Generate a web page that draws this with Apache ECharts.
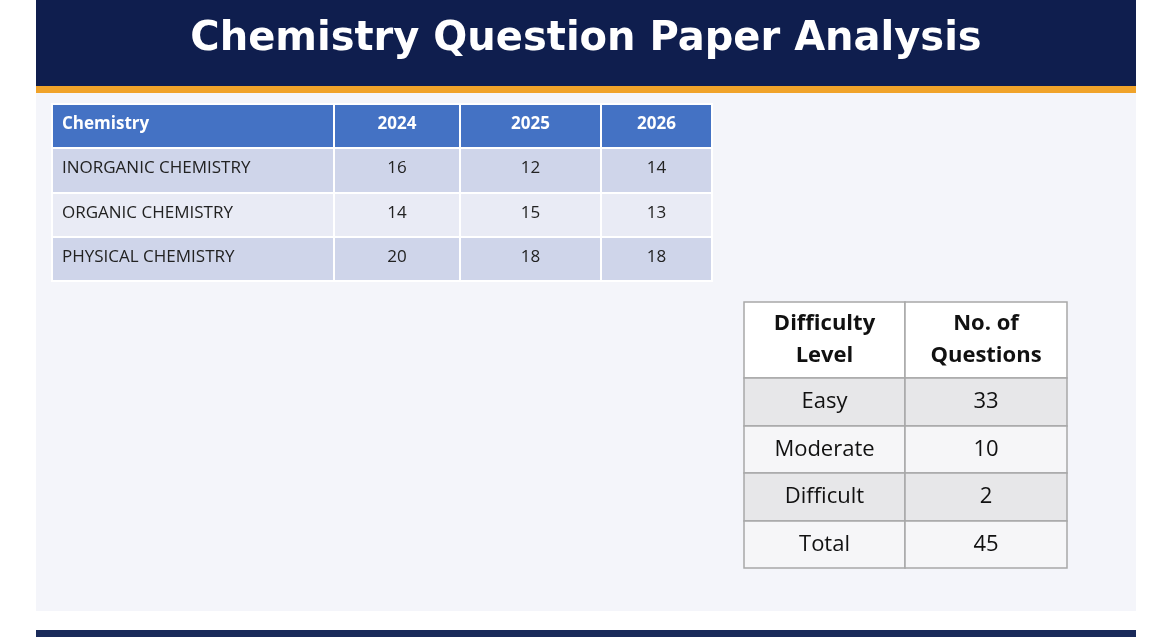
<!DOCTYPE html>
<html><head><meta charset="utf-8">
<script src="https://cdn.jsdelivr.net/npm/echarts@6/dist/echarts.min.js"></script>
<style>html,body{margin:0;padding:0;background:#fff}#c{width:1159px;height:637px}</style>
</head><body><div id="c"></div>
<script>
// ---- data ----
const title = 'Chemistry Question Paper Analysis';
const years = ['2024', '2025', '2026'];
const subjects = ['INORGANIC CHEMISTRY', 'ORGANIC CHEMISTRY', 'PHYSICAL CHEMISTRY'];
const inorganic = [16, 12, 14];
const organic = [14, 15, 13];
const physical = [20, 18, 18];
const levels = ['Easy', 'Moderate', 'Difficult', 'Total'];
const questions = [33, 10, 2, 45];
const header2 = ['Difficulty\nLevel', 'No. of\nQuestions'];

// ---- layout (styles) ----
const colEdges1 = [0, 282, 408, 549, 660];
const rowEdges1 = [0, 44, 89, 133, 177];
const colEdges2 = [0, 161, 323];
const rowEdges2 = [0, 76, 124, 171, 219, 266];

const cells1 = [];
cells1.push([0, 0, 'Chemistry']);
years.forEach((y, i) => cells1.push([i + 1, 0, y]));
[inorganic, organic, physical].forEach((arr, r) => {
  cells1.push([0, r + 1, subjects[r]]);
  arr.forEach((v, c) => cells1.push([c + 1, r + 1, String(v)]));
});
const cells2 = [[0, 0, header2[0]], [1, 0, header2[1]]];
levels.forEach((l, r) => { cells2.push([0, r + 1, l]); cells2.push([1, r + 1, String(questions[r])]); });

function render1(params, api) {
  const c = api.value(0), r = api.value(1);
  const p0 = api.coord([colEdges1[c], rowEdges1[r]]);
  const p1 = api.coord([colEdges1[c + 1], rowEdges1[r + 1]]);
  const fill = r === 0 ? '#4472c4' : (r % 2 === 1 ? '#cfd5ea' : '#e9ebf5');
  const label = cells1[params.dataIndex][2];
  return { type: 'group', children: [
    { type: 'rect', shape: { x: p0[0], y: p0[1], width: p1[0] - p0[0], height: p1[1] - p0[1] },
      style: { fill: fill, stroke: '#ffffff', lineWidth: 2 } },
    { type: 'text', style: { text: label, x: c === 0 ? p0[0] + 10 : (p0[0] + p1[0]) / 2, y: (p0[1] + p1[1]) / 2 - 2,
      align: c === 0 ? 'left' : 'center', verticalAlign: 'middle',
      fill: r === 0 ? '#ffffff' : '#222222', font: (r === 0 ? 'bold ' : '') + '17px "Open Sans", "Liberation Sans", sans-serif' } }
  ]};
}
function render2(params, api) {
  const c = api.value(0), r = api.value(1);
  const p0 = api.coord([colEdges2[c], rowEdges2[r]]);
  const p1 = api.coord([colEdges2[c + 1], rowEdges2[r + 1]]);
  const fill = r === 0 ? '#ffffff' : (r % 2 === 1 ? '#e7e7e9' : '#f6f6f8');
  const label = cells2[params.dataIndex][2];
  return { type: 'group', children: [
    { type: 'rect', shape: { x: p0[0], y: p0[1], width: p1[0] - p0[0], height: p1[1] - p0[1] },
      style: { fill: fill, stroke: '#a8a8a8', lineWidth: 1.5 } },
    { type: 'text', style: { text: label, x: (p0[0] + p1[0]) / 2, y: (p0[1] + p1[1]) / 2,
      align: 'center', verticalAlign: 'middle', lineHeight: 32,
      fill: '#111111', font: (r === 0 ? 'bold ' : '') + '22px "Open Sans", "Liberation Sans", sans-serif' } }
  ]};
}
const hiddenAxis = (gi, min, max, inv) => ({ type: 'value', gridIndex: gi, min: min, max: max, inverse: !!inv, show: false });

const chart = echarts.init(document.getElementById('c'));
chart.setOption({
  animation: false,
  backgroundColor: '#ffffff',
  graphic: [
    { type: 'rect', shape: { x: 36, y: 0, width: 1100, height: 611 }, style: { fill: '#f4f5fa' }, z: -10 },
    { type: 'rect', shape: { x: 36, y: 0, width: 1100, height: 86 }, style: { fill: '#0f1e4e' }, z: -9 },
    { type: 'rect', shape: { x: 36, y: 86, width: 1100, height: 7 }, style: { fill: '#f0a32a' }, z: -9 },
    { type: 'rect', shape: { x: 36, y: 630, width: 1100, height: 7 }, style: { fill: '#1a2a5a' }, z: -9 },
    { type: 'text', x: 586, y: 40, style: { text: title, fill: '#ffffff', align: 'center', verticalAlign: 'middle',
      font: 'bold 40px "DejaVu Sans", "Liberation Sans", sans-serif' } }
  ],
  grid: [
    { left: 52, top: 104, width: 660, height: 177 },
    { left: 744, top: 302, width: 323, height: 266 }
  ],
  xAxis: [hiddenAxis(0, 0, 660), hiddenAxis(1, 0, 323)],
  yAxis: [hiddenAxis(0, 0, 177, true), hiddenAxis(1, 0, 266, true)],
  series: [
    { type: 'custom', xAxisIndex: 0, yAxisIndex: 0, data: cells1.map(d => [d[0], d[1]]), renderItem: render1, clip: false },
    { type: 'custom', xAxisIndex: 1, yAxisIndex: 1, data: cells2.map(d => [d[0], d[1]]), renderItem: render2, clip: false }
  ]
});
</script></body></html>
